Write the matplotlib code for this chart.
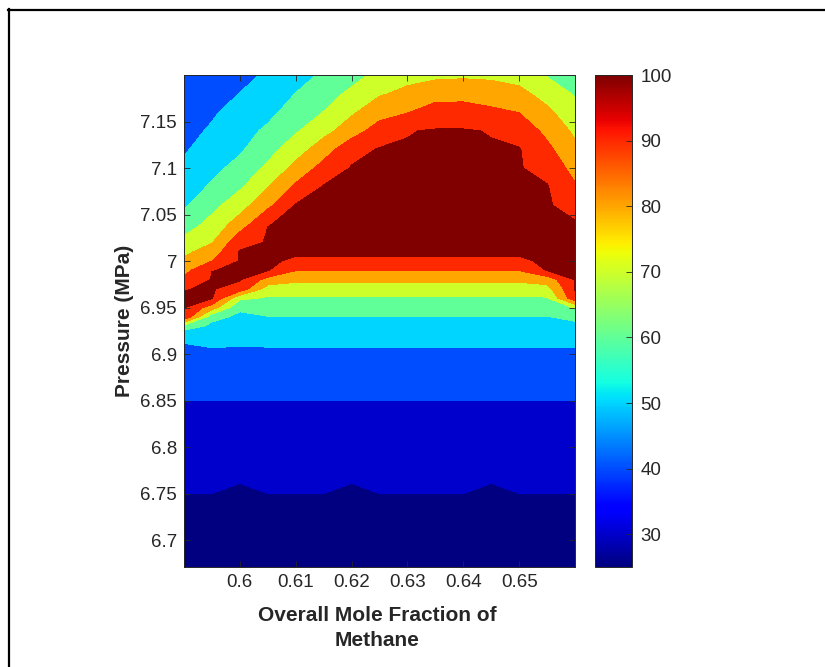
import numpy as np
import matplotlib
matplotlib.use("Agg")
import matplotlib.pyplot as plt
from matplotlib.colors import Normalize
from matplotlib.lines import Line2D

plt.rcParams['font.family'] = ['Liberation Sans', 'DejaVu Sans']

# grid
mole_frac = [0.59, 0.595, 0.60, 0.605, 0.61, 0.615, 0.62, 0.625,
             0.63, 0.635, 0.64, 0.645, 0.65, 0.655, 0.66]
pressure = [6.671, 6.74, 6.76, 6.84, 6.86, 6.90, 6.92, 6.93, 6.94, 6.95,
            6.96, 6.97, 6.98, 6.99, 7.00, 7.01, 7.02, 7.04, 7.06, 7.08,
            7.10, 7.12, 7.14, 7.16, 7.18, 7.20]

# one row per pressure, one value per mole fraction
z_rows = [
    [26, 26, 26, 26, 26, 26, 26, 26, 26, 26, 26, 26, 26, 26, 26],
    [28, 28, 28, 28, 28, 28, 28, 28, 28, 28, 28, 28, 28, 28, 28],
    [32, 32, 29.8, 32, 32, 32, 29.8, 32, 32, 32, 32, 29.8, 32, 32, 32],
    [38, 38, 38, 38, 38, 38, 38, 38, 38, 38, 38, 38, 38, 38, 38],
    [42, 42, 42, 42, 42, 42, 42, 42, 42, 42, 42, 42, 42, 42, 42],
    [48, 48, 48, 48, 48, 48, 48, 48, 48, 48, 48, 48, 48, 48, 48],
    [51.5, 53.9, 52.8, 53.4, 53.4, 53.4, 53.4, 53.4, 53.4, 53.4, 53.4, 53.4, 53.4, 53.4, 53.9],
    [66.7, 57.4, 55.4, 56.6, 56.6, 56.6, 56.6, 56.6, 56.6, 56.6, 56.6, 56.6, 56.6, 56.6, 57.5],
    [99, 63.3, 57.9, 59.7, 59.7, 59.7, 59.7, 59.7, 59.7, 59.7, 59.7, 59.7, 59.7, 59.7, 62.3],
    [100, 85, 61.8, 64.1, 64.1, 64.1, 64.1, 64.1, 64.1, 64.1, 64.1, 64.1, 64.1, 65.5, 70.5],
    [100, 100, 72, 68.8, 68.6, 68.6, 68.6, 68.6, 68.6, 68.6, 68.6, 68.6, 68.6, 69.2, 97],
    [99.3, 100, 96, 75.3, 74.9, 74.9, 74.9, 74.9, 74.9, 74.9, 74.9, 74.9, 74.9, 76.2, 100],
    [92, 100, 100, 86.4, 82.1, 82.1, 82.1, 82.1, 82.1, 82.1, 82.1, 82.1, 82.1, 84.5, 100],
    [86.8, 99.4, 100, 100, 90.3, 90.3, 90.3, 90.3, 90.3, 90.3, 90.3, 90.3, 90.3, 100, 100],
    [82.3, 90, 100, 100, 99, 99, 99, 99, 99, 99, 99, 99, 99, 100, 100],
    [77.6, 84.7, 100, 100, 100, 100, 100, 100, 100, 100, 100, 100, 100, 100, 100],
    [72.9, 79.5, 97, 100, 100, 100, 100, 100, 100, 100, 100, 100, 100, 100, 100],
    [64.6, 73.2, 84.5, 99.4, 100, 100, 100, 100, 100, 100, 100, 100, 100, 100, 100],
    [58.7, 67.1, 75.8, 87.6, 100, 100, 100, 100, 100, 100, 100, 100, 100, 100, 97.5],
    [55.3, 61.2, 68.6, 79.6, 91.8, 100, 100, 100, 100, 100, 100, 100, 100, 100, 91],
    [52, 57.4, 63.1, 71.9, 83, 93.6, 100, 100, 100, 100, 100, 100, 100, 96.6, 86.7],
    [49, 54.2, 58.7, 66.5, 75.4, 85.2, 97, 100, 100, 100, 100, 100, 100, 92.3, 82.5],
    [47.5, 51, 55.9, 61.9, 68.9, 76.9, 85, 95, 99.2, 100, 100, 99.2, 96, 87.6, 78.1],
    [46, 49, 53, 57.2, 64.6, 70.2, 78.7, 85.7, 89.5, 95, 95, 92, 89.8, 82.2, 73.5],
    [45, 47.5, 50.1, 53.5, 60.2, 65.5, 72.3, 79, 82.2, 85.5, 86, 85, 82.9, 76, 69],
    [44, 46.5, 48, 51, 56, 61.5, 66, 73, 77, 78, 78.5, 78, 76, 69.3, 66],
]

levels = [25, 30, 40, 50, 60, 70, 80, 90, 99.5, 101]
band_floor = [25, 30, 40, 50, 60, 70, 80, 90, 100]  # colour of each band
c_min, c_max = 25, 100

xticks = [0.60, 0.61, 0.62, 0.63, 0.64, 0.65]
xtick_labels = ['0.6', '0.61', '0.62', '0.63', '0.64', '0.65']
yticks = [6.70, 6.75, 6.80, 6.85, 6.90, 6.95, 7.00, 7.05, 7.10, 7.15]
ytick_labels = ['6.7', '6.75', '6.8', '6.85', '6.9', '6.95', '7', '7.05', '7.1', '7.15']
cbar_ticks = [30, 40, 50, 60, 70, 80, 90, 100]

Z = np.array(z_rows)
norm = Normalize(c_min, c_max)
cmap = plt.get_cmap('jet')
band_colors = [cmap(norm(v)) for v in band_floor]

grey = '#262626'
fig = plt.figure(figsize=(8.25, 6.67), dpi=100)
ax = fig.add_axes([184/825, 100/667, 391/825, 492/667])
ax.contourf(mole_frac, pressure, Z, levels=levels, colors=band_colors,
            antialiased=False)
ax.set_xlim(0.59, 0.66)
ax.set_ylim(6.671, 7.2)
ax.set_xticks(xticks)
ax.set_xticklabels(xtick_labels)
ax.set_yticks(yticks)
ax.set_yticklabels(ytick_labels)
ax.tick_params(direction='in', top=True, right=True, length=4, width=0.6,
               color=grey, labelcolor=grey, labelsize=13.5, pad=5)
for s in ax.spines.values():
    s.set_edgecolor(grey)
    s.set_linewidth(0.7)

ax.set_xlabel('Overall Mole Fraction of\nMethane', fontsize=15, fontweight='bold',
              color=grey, va='center', linespacing=1.4)
ax.xaxis.set_label_coords(0.494, -0.124)
ax.set_ylabel('Pressure (MPa)', fontsize=15, fontweight='bold', color=grey,
              va='center')
ax.yaxis.set_label_coords(-0.151, 0.5)

cax = fig.add_axes([595/825, 100/667, 37/825, 492/667])
sm = plt.cm.ScalarMappable(norm=norm, cmap=cmap)
cb = fig.colorbar(sm, cax=cax, ticks=cbar_ticks)
cb.ax.tick_params(direction='in', length=4, width=0.6, color=grey,
                  labelcolor=grey, labelsize=13.5, pad=6)
cb.outline.set_edgecolor(grey)
cb.outline.set_linewidth(0.7)

# black frame around the figure
fig.add_artist(Line2D([8/825, 1.0], [1 - 10/667, 1 - 10/667], color='black', lw=1.6))
fig.add_artist(Line2D([9/825, 9/825], [0.0, 1 - 9/667], color='black', lw=1.6))

fig.savefig('out.png', dpi=100)
